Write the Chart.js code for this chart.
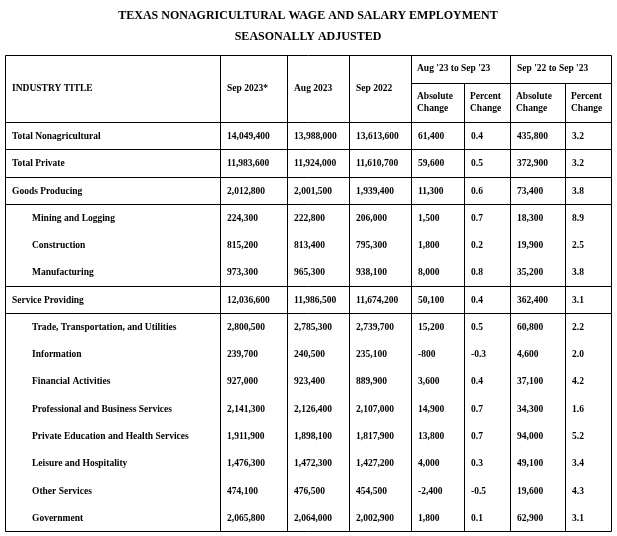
<!DOCTYPE html>
<html>
<head>
<meta charset="utf-8">
<script src="https://cdn.jsdelivr.net/npm/chart.js@4.4.0/dist/chart.umd.min.js"></script>
<style>
  html, body { margin: 0; padding: 0; background: #fff; }
  #wrap { width: 617px; height: 536px; position: relative; }
</style>
</head>
<body>
<div id="wrap"><canvas id="tabela"></canvas></div>
<script>
// Dados da tabela
const industrias = [
  'Total Nonagricultural', 'Total Private', 'Goods Producing',
  'Mining and Logging', 'Construction', 'Manufacturing',
  'Service Providing', 'Trade, Transportation, and Utilities', 'Information',
  'Financial Activities', 'Professional and Business Services',
  'Private Education and Health Services', 'Leisure and Hospitality',
  'Other Services', 'Government'
];
// linhas recuadas (subcategorias)
const recuadas = [false, false, false, true, true, true, false, true, true, true, true, true, true, true, true];

const sep2023 = ['14,049,400', '11,983,600', '2,012,800', '224,300', '815,200', '973,300', '12,036,600', '2,800,500', '239,700', '927,000', '2,141,300', '1,911,900', '1,476,300', '474,100', '2,065,800'];
const aug2023 = ['13,988,000', '11,924,000', '2,001,500', '222,800', '813,400', '965,300', '11,986,500', '2,785,300', '240,500', '923,400', '2,126,400', '1,898,100', '1,472,300', '476,500', '2,064,000'];
const sep2022 = ['13,613,600', '11,610,700', '1,939,400', '206,000', '795,300', '938,100', '11,674,200', '2,739,700', '235,100', '889,900', '2,107,000', '1,817,900', '1,427,200', '454,500', '2,002,900'];
const absMensal = ['61,400', '59,600', '11,300', '1,500', '1,800', '8,000', '50,100', '15,200', '-800', '3,600', '14,900', '13,800', '4,000', '-2,400', '1,800'];
const pctMensal = ['0.4', '0.5', '0.6', '0.7', '0.2', '0.8', '0.4', '0.5', '-0.3', '0.4', '0.7', '0.7', '0.3', '-0.5', '0.1'];
const absAnual = ['435,800', '372,900', '73,400', '18,300', '19,900', '35,200', '362,400', '60,800', '4,600', '37,100', '34,300', '94,000', '49,100', '19,600', '62,900'];
const pctAnual = ['3.2', '3.2', '3.8', '8.9', '2.5', '3.8', '3.1', '2.2', '2.0', '4.2', '1.6', '5.2', '3.4', '4.3', '3.1'];

// Títulos e cabeçalhos
const titulo = 'TEXAS NONAGRICULTURAL WAGE AND SALARY EMPLOYMENT';
const subtitulo = 'SEASONALLY ADJUSTED';
const cabecalhos = ['INDUSTRY TITLE', 'Sep 2023*', 'Aug 2023', 'Sep 2022'];
const grupos = ["Aug '23 to Sep '23", "Sep '22 to Sep '23"];
const subCabecalhos = [['Absolute', 'Change'], ['Percent', 'Change'], ['Absolute', 'Change'], ['Percent', 'Change']];

// Linhas depois das quais há uma borda horizontal
const bordasApos = [0, 1, 2, 5, 6];

// Layout das colunas (bordas em px no eixo x)
const colunasX = [5, 220, 287, 349, 411, 464, 510, 565, 611];
const topoTabela = 55;
const linhaSub = 83;

const fonte = 'bold 9.5px "Liberation Serif", "Times New Roman", serif';

const tabelaPlugin = {
  id: 'tabela',
  afterDraw(chart) {
    const ctx = chart.ctx;
    const x = chart.scales.x;
    const y = chart.scales.y;
    const area = chart.chartArea;
    const n = industrias.length;
    const passo = (area.bottom - area.top) / n;
    const px = v => Math.round(x.getPixelForValue(v)) + 0.5;
    const borda = i => Math.round(y.getPixelForValue(i) + passo / 2) + 0.5;

    ctx.save();
    ctx.fillStyle = '#000';
    ctx.strokeStyle = '#000';
    ctx.lineWidth = 1;

    // Título
    ctx.textAlign = 'center';
    ctx.textBaseline = 'middle';
    ctx.font = 'bold 12px "Liberation Serif", "Times New Roman", serif';
    ctx.fillText(titulo, 308, 16);
    ctx.fillText(subtitulo, 308, 37);

    // Bordas
    const topo = topoTabela + 0.5;
    const fundo = Math.round(area.bottom) + 0.5;
    const cab = Math.round(area.top) + 0.5;
    ctx.beginPath();
    ctx.rect(px(colunasX[0]), topo, px(colunasX[8]) - px(colunasX[0]), fundo - topo);
    ctx.moveTo(px(colunasX[0]), cab); ctx.lineTo(px(colunasX[8]), cab);
    ctx.moveTo(px(colunasX[4]), linhaSub + 0.5); ctx.lineTo(px(colunasX[8]), linhaSub + 0.5);
    [1, 2, 3, 4, 6].forEach(c => { ctx.moveTo(px(colunasX[c]), topo); ctx.lineTo(px(colunasX[c]), fundo); });
    [5, 7].forEach(c => { ctx.moveTo(px(colunasX[c]), linhaSub + 0.5); ctx.lineTo(px(colunasX[c]), fundo); });
    bordasApos.forEach(i => { ctx.moveTo(px(colunasX[0]), borda(i)); ctx.lineTo(px(colunasX[8]), borda(i)); });
    ctx.stroke();

    // Cabeçalhos
    ctx.font = fonte;
    ctx.textAlign = 'left';
    const meioCab = (topoTabela + area.top) / 2;
    ctx.fillText(cabecalhos[0], 12, meioCab);
    for (let c = 1; c <= 3; c++) ctx.fillText(cabecalhos[c], x.getPixelForValue(colunasX[c]) + 7, meioCab);
    ctx.fillText(grupos[0], x.getPixelForValue(colunasX[4]) + 6, 69);
    ctx.fillText(grupos[1], x.getPixelForValue(colunasX[6]) + 7, 69);
    subCabecalhos.forEach((s, k) => {
      const xx = x.getPixelForValue(colunasX[4 + k]) + 6;
      ctx.fillText(s[0], xx, 97);
      ctx.fillText(s[1], xx, 109);
    });

    // Células
    const colunas = [sep2023, aug2023, sep2022, absMensal, pctMensal, absAnual, pctAnual];
    industrias.forEach((nome, i) => {
      const yy = y.getPixelForValue(i) + 1;
      ctx.fillText(nome, recuadas[i] ? 32 : 12, yy);
      colunas.forEach((col, c) => {
        ctx.fillText(col[i], x.getPixelForValue(colunasX[c + 1]) + 7, yy);
      });
    });
    ctx.restore();
  }
};

const grafico = new Chart(document.getElementById('tabela'), {
  type: 'scatter',
  data: { labels: industrias, datasets: [] },
  options: {
    responsive: true,
    maintainAspectRatio: false,
    animation: false,
    devicePixelRatio: 1,
    layout: { padding: { top: 122, bottom: 5, left: 0, right: 0 } },
    plugins: { legend: { display: false }, tooltip: { enabled: false } },
    scales: {
      x: { type: 'linear', min: 0, max: 617, display: false },
      y: { type: 'category', labels: industrias, offset: true, display: false }
    }
  },
  plugins: [tabelaPlugin]
});
</script>
</body>
</html>
